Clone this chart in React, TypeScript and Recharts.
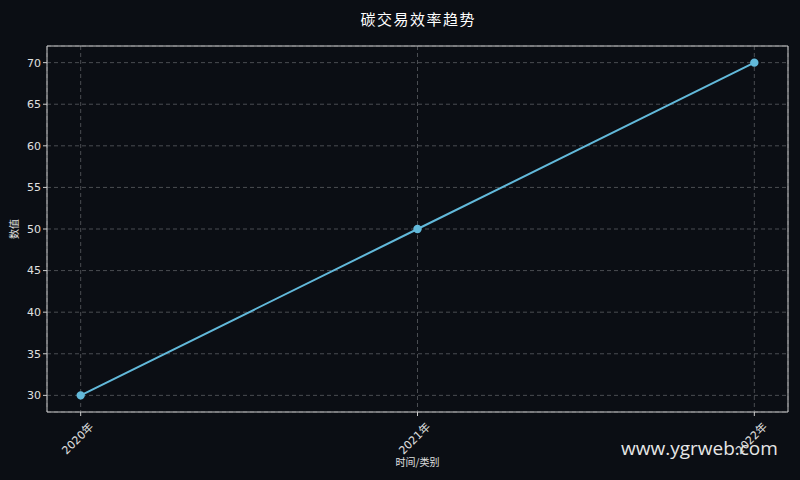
import React from "react";
import { LineChart, Line, XAxis, YAxis, CartesianGrid, ReferenceArea } from "recharts";

const categories = ["2020年", "2021年", "2022年"];
const values = [30, 50, 70];
const yTicks = [30, 35, 40, 45, 50, 55, 60, 65, 70];

const data = categories.map((c, i) => ({ idx: i, name: c, value: values[i] }));

const BG = "#0b0e14";
const LINE = "#62b9da";
const TXT = "#e0e0e0";
const FONT = "'DejaVu Sans', 'Noto Sans CJK SC', sans-serif";
const CJK = "'Noto Sans CJK SC', sans-serif";

const XTick = (props: any) => {
  const { x, y, payload } = props;
  return (
    <g transform={`translate(${x + 11},${y + 7})`}>
      <text transform="rotate(-45)" textAnchor="end" dominantBaseline="central" fill={TXT} fontSize={11} fontFamily={FONT}>
        {categories[payload.value]}
      </text>
    </g>
  );
};

const XLabel = (props: any) => {
  const vb = props.viewBox || {};
  const cx = vb.x + vb.width / 2;
  return (
    <text x={cx} y={466} textAnchor="middle" fill={TXT} fontSize={10} fontFamily={CJK}>
      时间/类别
    </text>
  );
};

const YLabel = (props: any) => {
  const vb = props.viewBox || {};
  const cy = vb.y + vb.height / 2;
  return (
    <text x={18} y={cy} transform={`rotate(-90, 18, ${cy})`} textAnchor="middle" fill={TXT} fontSize={10} fontFamily={CJK}>
      数值
    </text>
  );
};

export default function App() {
  return (
    <div style={{ position: "absolute", left: 0, top: 0, width: 800, height: 480, background: BG, overflow: "hidden" }}>
      <div style={{ position: "absolute", top: 8, left: 47, width: 741, textAlign: "center", color: "#ffffff", fontSize: 15, fontFamily: CJK, letterSpacing: 1.5, textIndent: 1.5 }}>
        碳交易效率趋势
      </div>
      <LineChart width={800} height={480} data={data} margin={{ top: 46, right: 12, left: 0, bottom: 0 }}>
        <CartesianGrid stroke="#4a4d52" strokeDasharray="4 3" />
        <XAxis
          dataKey="idx"
          type="number"
          domain={[-0.1, 2.1]}
          ticks={[0, 1, 2]}
          height={68}
          tick={<XTick />}
          tickLine={{ stroke: "#cccccc" }}
          tickSize={4}
          axisLine={false}
          label={<XLabel />}
        />
        <YAxis
          type="number"
          domain={[28, 72]}
          ticks={yTicks}
          width={47}
          tick={{ fill: TXT, fontSize: 11, fontFamily: FONT }}
          tickLine={{ stroke: "#cccccc" }}
          tickSize={4}
          axisLine={false}
          label={<YLabel />}
        />
        <ReferenceArea x1={-0.1} x2={2.1} y1={28} y2={72} fill="none" stroke="#cccccc" strokeWidth={1} />
        <Line
          dataKey="value"
          stroke={LINE}
          strokeWidth={2}
          dot={{ r: 3.2, fill: LINE, stroke: LINE }}
          isAnimationActive={false}
        />
      </LineChart>
      <div style={{ position: "absolute", left: 621, top: 435, color: "#e6e6e6", fontSize: 19, fontFamily: "'Open Sans', sans-serif" }}>
        www.ygrweb.com
      </div>
    </div>
  );
}
